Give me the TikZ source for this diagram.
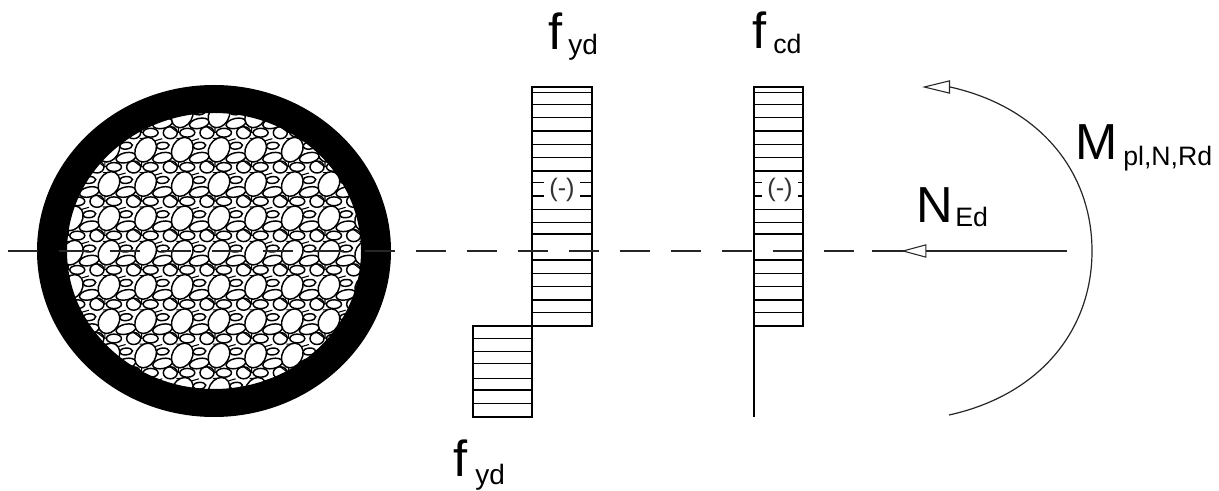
\documentclass[tikz,border=0pt]{standalone}
\usepackage{fontspec}
\setmainfont{Liberation Sans}
\usetikzlibrary{arrows.meta}
\tikzset{
  big/.style={font=\fontsize{38}{38}\selectfont,inner sep=0pt,anchor=base west},
  sub/.style={font=\fontsize{20}{20}\selectfont,inner sep=0pt,anchor=base west},
  subb/.style={font=\fontsize{21}{21}\selectfont,inner sep=0pt,anchor=base west},
  sign/.style={font=\fontsize{19}{19}\selectfont,fill=white,inner xsep=3.7pt,inner ysep=0pt,minimum height=19pt,text=black!80},
  hatch/.style={line width=1pt},
  frame/.style={line width=1.35pt},
  axis/.style={line width=0.9pt,black!85},
  cell/.style={fill=white,draw=black,line width=1.1pt},
  web/.style={draw=black,line width=0.8pt}
}
\begin{document}
\begin{tikzpicture}[x=0.75pt,y=-0.75pt]
\useasboundingbox (0,0) rectangle (1219,491);
\fill[white] (0,0) rectangle (1219,491);
% section: concrete core
\begin{scope}
\clip (214,251) ellipse [x radius=148,y radius=139];
\foreach \i in {-4,...,5}{
 \foreach \j in {-4,...,5}{
  \begin{scope}[shift={(182.3+36.67*\i,218.3+34.3*\j)}]
   \path[cell] (17,8) ellipse [x radius=10,y radius=5,rotate=12];
   \path[cell] (-12,-17) ellipse [x radius=7,y radius=6];
   \path[cell] (17,-4) ellipse [x radius=6.5,y radius=3.4,rotate=5];
   \path[cell] (5,-17) ellipse [x radius=7.5,y radius=4.4];
   \path[web] (-12,-23) -- (-4,-17) (-20,-11) -- (-27,-9) (-4,17) -- (-4,12) (-10,17) -- (2,17) (-6,23) -- (-2,23);
   \path[cell] (0,0) ellipse [x radius=10,y radius=13,rotate=-30];
  \end{scope}
 }
}
\end{scope}
% section: steel ring
\fill[black,even odd rule] (214,251) ellipse [x radius=177,y radius=166]
  (214,251) ellipse [x radius=147,y radius=138];
% stress blocks
\coordinate (ta) at (532.3,86.7); \coordinate (tb) at (591.7,325.7);
\coordinate (ba) at (472.7,325.7); \coordinate (bb) at (532.3,416.7);
\coordinate (ca) at (754,86.7);   \coordinate (cb) at (803.3,325.7);
\coordinate (cc) at (754,416.7);
\foreach \y in {92.7,104.3,117.7,131,144.3,157.7,171,182.7,196,209.3,222.3,234,260,273.3,286.7,300,312.7}{
  \draw[hatch] (532.3,\y) -- (591.7,\y);
  \draw[hatch] (754,\y) -- (803.3,\y);
}
\foreach \y in {338.3,351.7,363.3,378.3,390,403.3}{
  \draw[hatch] (472.7,\y) -- (532.3,\y);
}
\draw[frame] (ta) rectangle (tb);
\draw[frame] (ba) rectangle (bb);
\draw[frame] (ca) rectangle (cb);
\draw[frame] (ca) -- (cc);
\node[sign] (s1) at (562,190) {(-)};
\node[sign] (s2) at (780,190) {(-)};
% axis
\coordinate (axa) at (7.7,251);
\coordinate (axb) at (990,251);
\coordinate (nstart) at (1067,251);
\coordinate (ntip) at (901,251);
\coordinate (ntail) at (872,251);
\draw[axis,dash pattern=on 22.5pt off 15.75pt] (axa) -- (axb);
\draw[axis] (ntail) -- (ntip);
\draw[axis,-{Triangle[fill=white,length=19pt,width=10pt,line width=0.8pt]}] (nstart) -- (ntip);
% moment arc
\coordinate (mstart) at (949,415);
\coordinate (mmid) at (1092,251);
\coordinate (mbase) at (950,87);
\coordinate (mtip) at (922,87);
\draw[axis,-{Triangle[fill=white,length=21pt,width=10pt,line width=0.8pt]}]
  (mstart) .. controls (1040,395) and (1092,330) .. (mmid)
  .. controls (1092,172) and (1040,107) .. (mbase) -- (mtip);
% labels
\node[big] (f1) at (548,50) {f};
\node[subb] (f1s) at (568,55) {yd};
\node[big] (f2) at (752,49) {f};
\node[sub] (f2s) at (773,54) {cd};
\node[big] (f3) at (453,476) {f};
\node[subb] (f3s) at (475,484) {yd};
\node[big] (n1) at (916,223) {N};
\node[sub] (n1s) at (955,227) {Ed};
\node[big] (m1) at (1075,160) {M};
\node[sub] (m1s) at (1123,166) {pl,N,Rd};
\end{tikzpicture}
\end{document}
